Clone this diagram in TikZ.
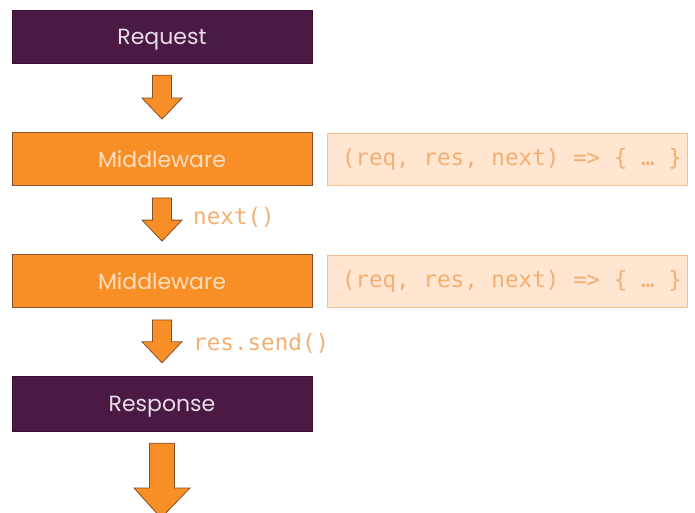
\documentclass[tikz,border=0pt]{standalone}
\usepackage{fontspec}
\setmainfont{Poppins}
\setmonofont{DejaVu Sans Mono}
\usetikzlibrary{calc,positioning}

\definecolor{plum}{HTML}{4A1A45}
\definecolor{plumline}{HTML}{38112F}
\definecolor{plumtext}{HTML}{EADDE9}
\definecolor{tangerine}{HTML}{F78F26}
\definecolor{rust}{HTML}{85502E}
\definecolor{peachtext}{HTML}{FDDDBD}
\definecolor{peach}{HTML}{FEE6D0}
\definecolor{peachline}{HTML}{F6C08F}
\definecolor{apricot}{HTML}{F5AE72}

\newcommand{\codefont}{\ttfamily\fontsize{22.6}{26}\selectfont}

\tikzset{
  stage/.style={rectangle, minimum width=300pt, minimum height=53pt, inner sep=0pt,
    text depth=0pt, font=\fontsize{22}{26}\selectfont},
  endpoint/.style={stage, fill=plum, draw=plumline, text=plumtext},
  middleware/.style={stage, fill=tangerine, draw=rust, line width=0.8pt, text=peachtext},
  handler/.style={rectangle, minimum width=360pt, minimum height=52pt, inner sep=0pt,
    fill=peach, draw=peachline, line width=0.8pt},
  codelabel/.style={text=apricot, inner sep=0pt, font=\codefont},
  flowarrow/.style={fill=tangerine, draw=rust, line width=0.8pt, line join=miter}
}

% block arrow: from node, to node, shaft half width, head half width, head length
\newcommand{\flowarrow}[5]{%
  \draw[flowarrow] let \p1=($(#1.south)+(0,12)$), \p2=($(#2.north)+(0,-13)$) in
    (\x1-#3,\y1) -- (\x1+#3,\y1) -- (\x1+#3,\y2+#5) -- (\x1+#4,\y2+#5)
    -- (\x2,\y2) -- (\x1-#4,\y2+#5) -- (\x1-#3,\y2+#5) -- cycle;}

\begin{document}
\begin{tikzpicture}[x=1pt, y=-1pt]
\useasboundingbox (0,0) rectangle (695,513);

\node[endpoint] (req) at (162,36.5) {Request};
\node[middleware] (mw1) at (162,159) {Middleware};
\node[handler] (code1) at (507,159) {};
\node[middleware] (mw2) at (162,281) {Middleware};
\node[handler] (code2) at (507,281) {};
\node[endpoint, minimum height=55pt] (resp) at (162,403.5) {Response};
\coordinate (out) at (161,531);

\node[codelabel, anchor=west] (sig1) at ($(code1.west)+(15,0)$) {(req, res, next) => \{ … \}};
\node[codelabel, anchor=west] (sig2) at ($(code2.west)+(15,0)$) {(req, res, next) => \{ … \}};

\flowarrow{req}{mw1}{9.5pt}{20pt}{21pt}
\flowarrow{mw1}{mw2}{9.5pt}{20pt}{21pt}
\flowarrow{mw2}{resp}{9.5pt}{20pt}{21pt}
\flowarrow{resp}{out}{12.5pt}{28pt}{30pt}

\node[codelabel, anchor=west] (lnext) at ($(mw1.south)+(31,32)$) {next()};
\node[codelabel, anchor=west] (lsend) at ($(mw2.south)+(31,36)$) {res.send()};
\end{tikzpicture}
\end{document}
